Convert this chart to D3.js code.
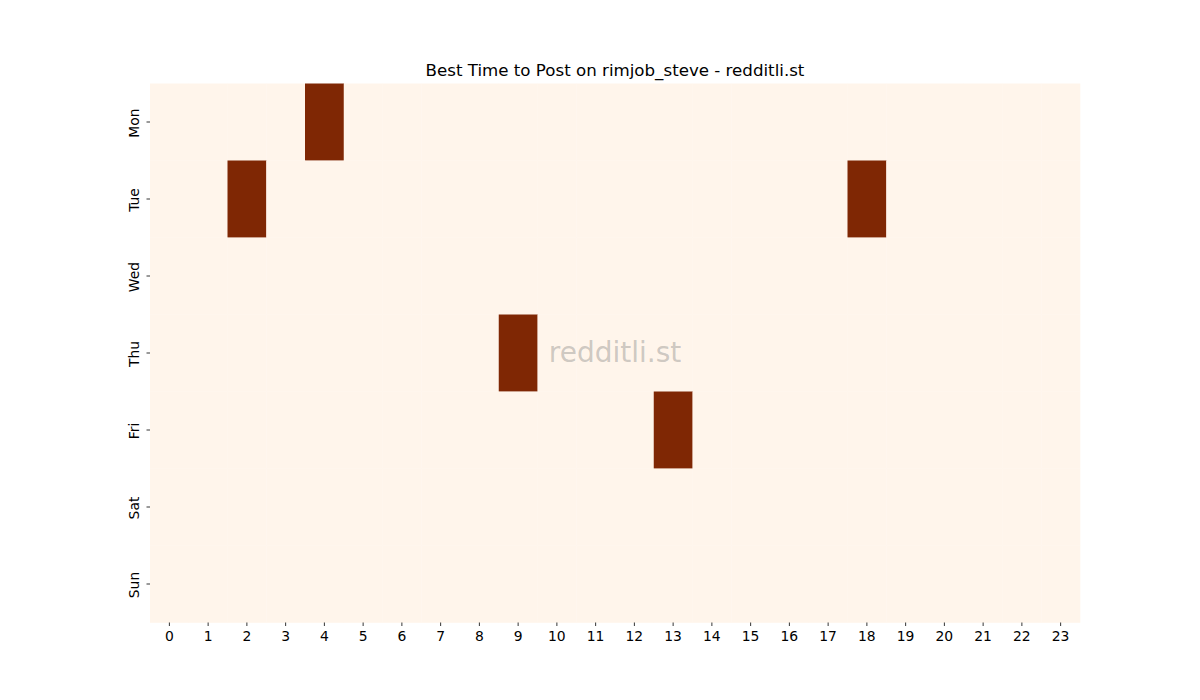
<!DOCTYPE html>
<html>
<head>
<meta charset="utf-8">
<script src="https://cdn.jsdelivr.net/npm/d3@7"></script>
<style>
  body { margin: 0; background: #fff; }
  text { font-family: "DejaVu Sans", sans-serif; }
</style>
</head>
<body>
<svg id="chart" width="1200" height="700"></svg>
<script>
var days = ["Mon", "Tue", "Wed", "Thu", "Fri", "Sat", "Sun"];
var hours = d3.range(24);

// activity score per day, one value per hour (0..23)
var mon = [0,0,0,0,1,0,0,0,0,0,0,0,0,0,0,0,0,0,0,0,0,0,0,0];
var tue = [0,0,1,0,0,0,0,0,0,0,0,0,0,0,0,0,0,0,1,0,0,0,0,0];
var wed = [0,0,0,0,0,0,0,0,0,0,0,0,0,0,0,0,0,0,0,0,0,0,0,0];
var thu = [0,0,0,0,0,0,0,0,0,1,0,0,0,0,0,0,0,0,0,0,0,0,0,0];
var fri = [0,0,0,0,0,0,0,0,0,0,0,0,0,1,0,0,0,0,0,0,0,0,0,0];
var sat = [0,0,0,0,0,0,0,0,0,0,0,0,0,0,0,0,0,0,0,0,0,0,0,0];
var sun = [0,0,0,0,0,0,0,0,0,0,0,0,0,0,0,0,0,0,0,0,0,0,0,0];

var rows = [mon, tue, wed, thu, fri, sat, sun];
var title = "Best Time to Post on rimjob_steve - redditli.st";

var svg = d3.select("#chart");
var plotLeft = 150, plotRight = 1080, plotTop = 83.5, plotBottom = 622.5;

var cells = [];
rows.forEach(function(r, i) {
  r.forEach(function(v, h) {
    cells.push({day: days[i], hour: h, value: v});
  });
});

var xScale = d3.scaleBand().domain(hours).range([plotLeft, plotRight]);
var yScale = d3.scaleBand().domain(days).range([plotTop, plotBottom]);
var color = d3.scaleSequential(d3.interpolateOranges)
  .domain([0, d3.max(cells, function(d) { return d.value; })]);

svg.selectAll("rect.cell")
  .data(cells)
  .enter()
  .append("rect")
  .attr("class", "cell")
  .attr("x", function(d) { return xScale(d.hour); })
  .attr("y", function(d) { return yScale(d.day); })
  .attr("width", xScale.bandwidth() + 0.3)
  .attr("height", yScale.bandwidth() + 0.3)
  .attr("fill", function(d) { return color(d.value); });

var xAxis = d3.axisBottom(xScale).tickSize(3.5).tickPadding(5);
var yAxis = d3.axisLeft(yScale).tickSize(3.5).tickPadding(3.5);

var gx = svg.append("g")
  .attr("transform", "translate(0," + plotBottom + ")")
  .call(xAxis);
gx.select(".domain").remove();
gx.selectAll("text").attr("font-size", "13.9px").attr("fill", "#000")
  .style("font-family", "DejaVu Sans, sans-serif");
gx.selectAll("line").attr("stroke", "#000").attr("stroke-width", 0.8);

var gy = svg.append("g")
  .attr("transform", "translate(" + plotLeft + ",0)")
  .call(yAxis);
gy.select(".domain").remove();
gy.selectAll("line").attr("stroke", "#000").attr("stroke-width", 0.8);
gy.selectAll("text")
  .attr("font-size", "13.9px")
  .attr("fill", "#000")
  .style("font-family", "DejaVu Sans, sans-serif")
  .attr("text-anchor", "middle")
  .attr("x", 0)
  .attr("y", 0)
  .attr("dy", null)
  .attr("transform", "translate(-11,1) rotate(-90)");

// watermark
svg.append("text")
  .attr("x", 615)
  .attr("y", 362)
  .attr("text-anchor", "middle")
  .attr("font-size", "28px")
  .attr("fill", "#808080")
  .attr("fill-opacity", 0.4)
  .text("redditli.st");

svg.append("text")
  .attr("x", (plotLeft + plotRight) / 2)
  .attr("y", 76)
  .attr("text-anchor", "middle")
  .attr("font-size", "16.67px")
  .attr("fill", "#000")
  .text(title);
</script>
</body>
</html>
